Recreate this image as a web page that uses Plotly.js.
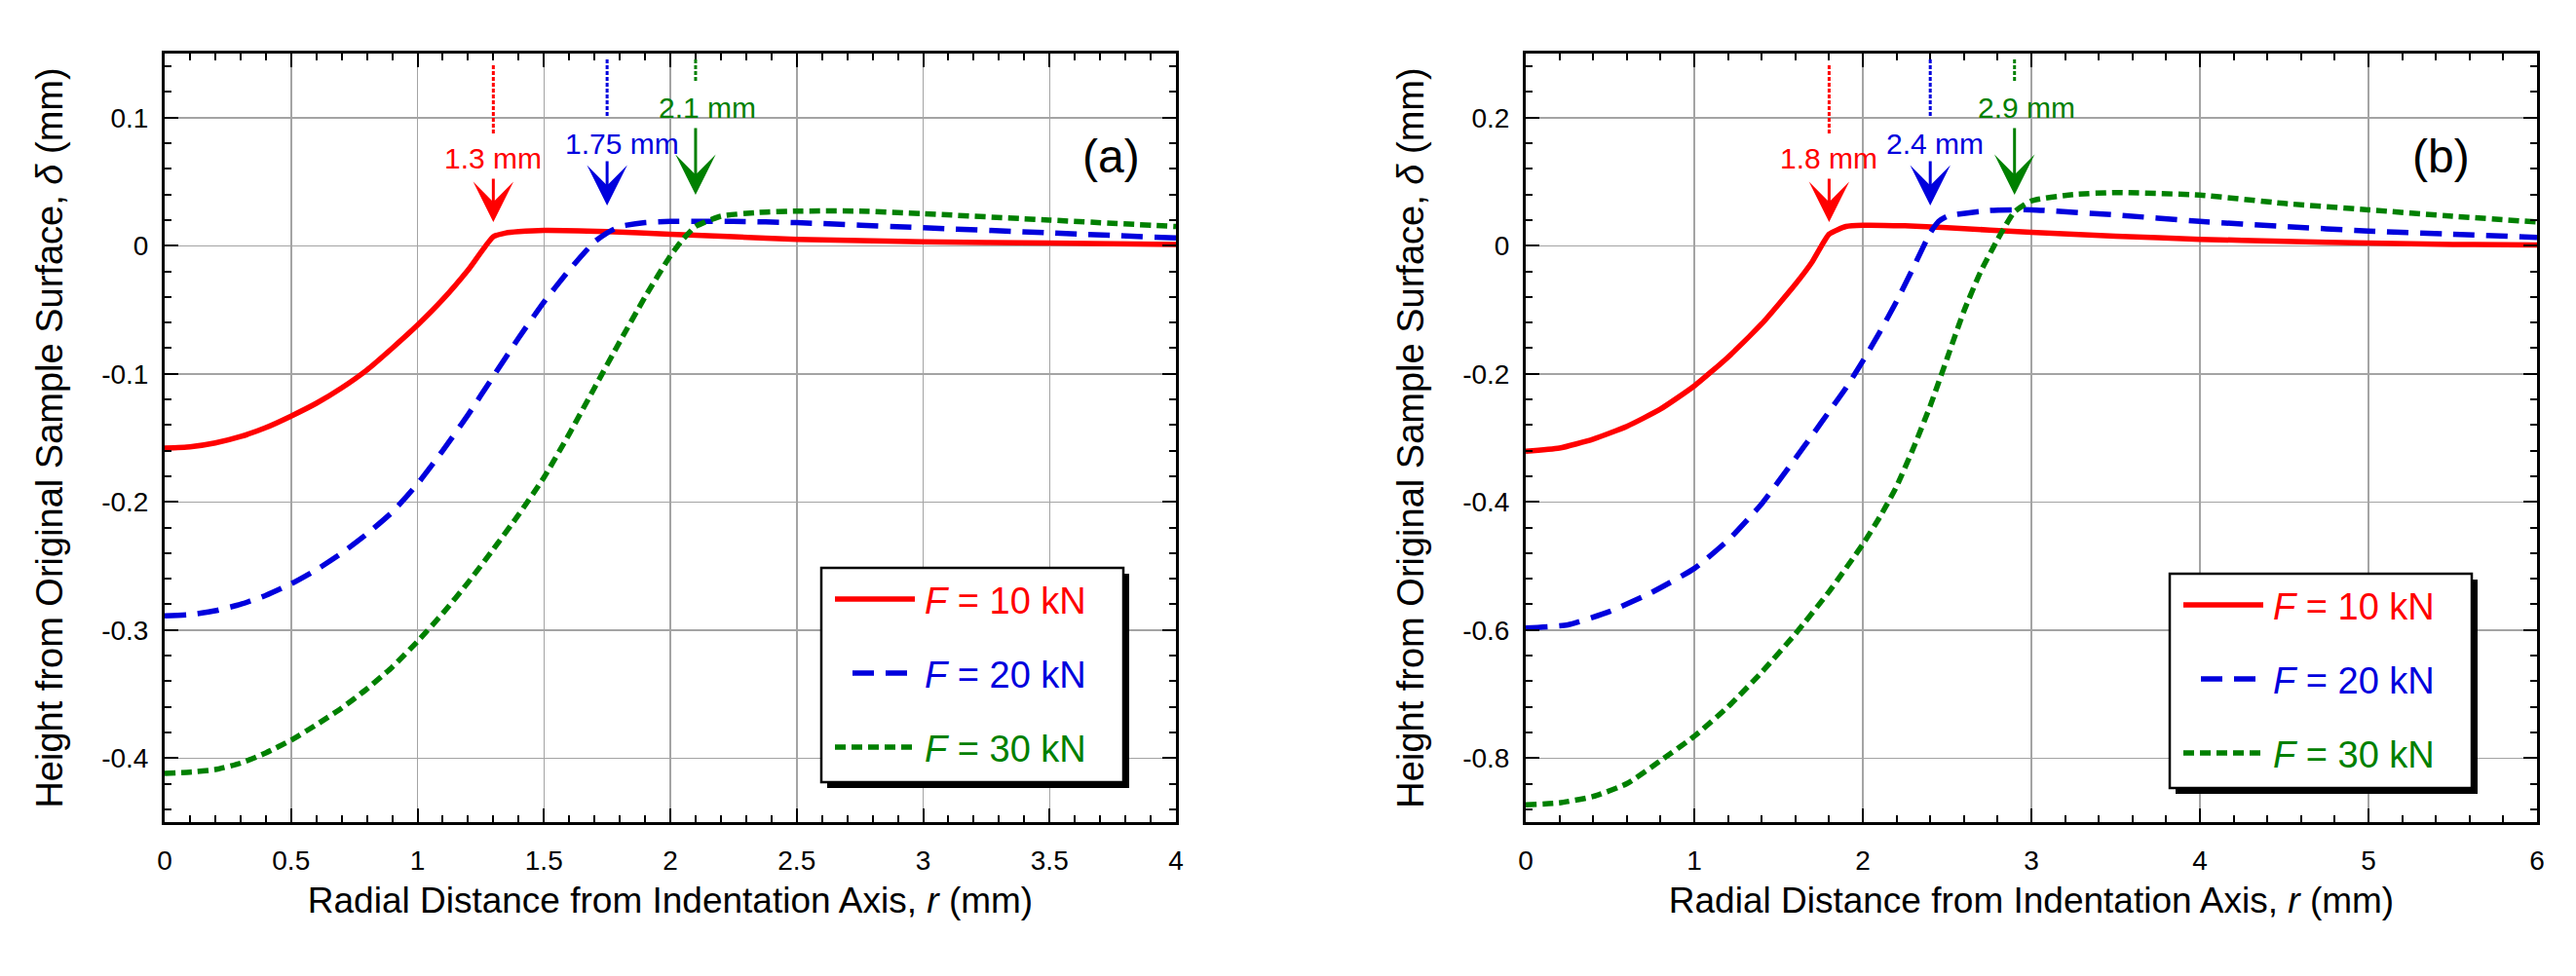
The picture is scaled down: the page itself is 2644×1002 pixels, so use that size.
<!DOCTYPE html>
<html>
<head>
<meta charset="utf-8">
<script src="https://cdn.plot.ly/plotly-3.0.1.min.js"></script>
<style>
  html, body { margin: 0; padding: 0; background: #fff; }
  #chart { width: 2644px; height: 1002px; }
</style>
</head>
<body>
<div id="chart"></div>
<script>
// ---- panel (a): radial distance r (mm) vs surface height delta (mm)
const rA10 = [0, 0.1, 0.2, 0.3, 0.4, 0.5, 0.6, 0.7, 0.8, 0.9, 1.0, 1.1, 1.2, 1.3, 1.35, 1.4, 1.5, 1.75, 2.0, 2.25, 2.5, 3.0, 3.5, 4.0];
const dA10 = [-0.158, -0.157, -0.154, -0.149, -0.142, -0.133, -0.123, -0.111, -0.097, -0.080, -0.062, -0.042, -0.019, 0.007, 0.010, 0.011, 0.012, 0.011, 0.009, 0.007, 0.005, 0.003, 0.002, 0.001];

const rA20 = [0, 0.1, 0.2, 0.3, 0.4, 0.5, 0.6, 0.7, 0.8, 0.9, 1.0, 1.1, 1.2, 1.3, 1.4, 1.5, 1.6, 1.7, 1.75, 1.8, 1.9, 2.0, 2.25, 2.5, 3.0, 3.5, 4.0];
const dA20 = [-0.289, -0.288, -0.285, -0.280, -0.273, -0.264, -0.253, -0.240, -0.225, -0.208, -0.186, -0.160, -0.132, -0.102, -0.072, -0.044, -0.019, 0.003, 0.010, 0.015, 0.018, 0.019, 0.019, 0.018, 0.014, 0.010, 0.006];

const rA30 = [0, 0.1, 0.2, 0.3, 0.4, 0.5, 0.6, 0.7, 0.8, 0.9, 1.0, 1.1, 1.2, 1.3, 1.4, 1.5, 1.6, 1.7, 1.8, 1.9, 2.0, 2.05, 2.1, 2.2, 2.35, 2.5, 2.75, 3.0, 3.5, 4.0];
const dA30 = [-0.412, -0.411, -0.409, -0.404, -0.396, -0.386, -0.374, -0.361, -0.346, -0.329, -0.309, -0.287, -0.263, -0.237, -0.210, -0.181, -0.147, -0.111, -0.075, -0.040, -0.008, 0.005, 0.015, 0.023, 0.026, 0.027, 0.027, 0.025, 0.020, 0.015];

// ---- panel (b)
const rB10 = [0, 0.2, 0.4, 0.6, 0.8, 1.0, 1.2, 1.4, 1.6, 1.7, 1.8, 1.9, 2.0, 2.25, 2.5, 3.0, 3.5, 4.0, 4.5, 5.0, 5.5, 6.0];
const dB10 = [-0.321, -0.316, -0.302, -0.282, -0.255, -0.219, -0.174, -0.122, -0.060, -0.025, 0.018, 0.030, 0.032, 0.031, 0.028, 0.021, 0.015, 0.010, 0.007, 0.004, 0.002, 0.001];

const rB20 = [0, 0.25, 0.5, 0.75, 1.0, 1.2, 1.4, 1.5, 1.6, 1.7, 1.8, 1.9, 2.0, 2.1, 2.2, 2.3, 2.4, 2.45, 2.5, 2.75, 3.0, 3.5, 4.0, 4.5, 5.0, 5.5, 6.0];
const dB20 = [-0.597, -0.592, -0.571, -0.541, -0.504, -0.460, -0.403, -0.368, -0.332, -0.296, -0.259, -0.222, -0.180, -0.135, -0.087, -0.034, 0.020, 0.038, 0.046, 0.055, 0.056, 0.048, 0.038, 0.030, 0.023, 0.018, 0.013];

const rB30 = [0, 0.2, 0.4, 0.6, 0.8, 1.0, 1.2, 1.4, 1.6, 1.8, 2.0, 2.1, 2.2, 2.3, 2.4, 2.5, 2.6, 2.7, 2.8, 2.85, 2.9, 3.0, 3.25, 3.5, 4.0, 4.5, 5.0, 5.5, 6.0];
const dB30 = [-0.873, -0.870, -0.860, -0.840, -0.804, -0.766, -0.720, -0.666, -0.606, -0.540, -0.466, -0.424, -0.376, -0.316, -0.250, -0.176, -0.102, -0.040, 0.010, 0.033, 0.053, 0.070, 0.080, 0.083, 0.079, 0.066, 0.056, 0.046, 0.037];

// contact radii marked by arrows (mm)
const contactA = [1.3, 1.75, 2.1];
const contactB = [1.8, 2.4, 2.9];

// loads
const loads = ['10', '20', '30'];

// ticks
const xTickValsA = [0, 0.5, 1, 1.5, 2, 2.5, 3, 3.5, 4];
const xTickTextA = ['0', '0.5', '1', '1.5', '2', '2.5', '3', '3.5', '4'];
const yTickValsA = [-0.4, -0.3, -0.2, -0.1, 0, 0.1];
const yTickTextA = ['-0.4', '-0.3', '-0.2', '-0.1', '0', '0.1'];
const xTickValsB = [0, 1, 2, 3, 4, 5, 6];
const xTickTextB = ['0', '1', '2', '3', '4', '5', '6'];
const yTickValsB = [-0.8, -0.6, -0.4, -0.2, 0, 0.2];
const yTickTextB = ['-0.8', '-0.6', '-0.4', '-0.2', '0', '0.2'];

// ---- styling
const W = 2644, H = 1002;
const px = v => v / W;
const py = v => 1 - v / H;
const FONT = 'Liberation Sans, Arial, sans-serif';
const colors = ['#ff0000', '#0000dd', '#008000'];
const dashes = ['solid', '22px,12px', '11px,6px'];

const panels = [
    {
        xa: 'x', ya: 'y', left: 169, right: 1207, tag: '(a)',
        curves: [[rA10, dA10], [rA20, dA20], [rA30, dA30]],
        contact: contactA, textShift: [0, 15, 12], legend: [843, 583]
    },
    {
        xa: 'x2', ya: 'y2', left: 1566, right: 2604, tag: '(b)',
        curves: [[rB10, dB10], [rB20, dB20], [rB30, dB30]],
        contact: contactB, textShift: [0, 5, 12], legend: [2227, 589]
    }
];
const TOP = 55, BOTTOM = 844;

// marker geometry in px (same for both panels)
const dotTop = [67, 61, 61];
const dotBot = [137, 120, 83];
const labelY = [163, 147, 110];
const arrowTail = [182, 164, 130];
const arrowTip = [228, 211, 200];

const traces = [];
const shapes = [];
const annotations = [];

panels.forEach(p => {
    p.curves.forEach((c, i) => {
        traces.push({
            x: c[0], y: c[1], xaxis: p.xa, yaxis: p.ya,
            mode: 'lines',
            line: { color: colors[i], width: 5.5, dash: dashes[i], shape: 'spline', smoothing: 0.5 },
            showlegend: false, hoverinfo: 'skip'
        });
    });

    p.contact.forEach((r, i) => {
        shapes.push({
            type: 'line', xref: p.xa, yref: 'paper',
            x0: r, x1: r, y0: py(dotTop[i]), y1: py(dotBot[i]),
            line: { color: colors[i], width: 3, dash: '4px,2px' }
        });
        annotations.push({
            xref: p.xa, yref: 'paper', x: r, y: py(labelY[i]),
            xshift: p.textShift[i], yanchor: 'middle',
            text: r + ' mm', showarrow: false,
            font: { family: FONT, size: 30, color: colors[i] }
        });
        annotations.push({
            xref: p.xa, yref: 'paper', x: r, y: py(arrowTip[i]),
            ax: 0, ay: -(arrowTip[i] - arrowTail[i]),
            text: '', showarrow: true, arrowhead: 3, arrowsize: 2.3,
            arrowwidth: 3, arrowcolor: colors[i], standoff: 0
        });
    });

    // panel tag
    annotations.push({
        xref: 'paper', yref: 'paper', x: px(p.right - 67), y: py(160),
        text: p.tag, showarrow: false, yanchor: 'middle',
        font: { family: FONT, size: 48, color: '#000' }
    });

    // legend box with drop shadow
    const [lx, ly] = p.legend;
    const bw = 310, bh = 220;
    shapes.push({
        type: 'rect', xref: 'paper', yref: 'paper',
        x0: px(lx + 6), x1: px(lx + bw + 6), y0: py(ly + 6), y1: py(ly + bh + 6),
        fillcolor: '#000', line: { width: 0 }
    });
    shapes.push({
        type: 'rect', xref: 'paper', yref: 'paper',
        x0: px(lx), x1: px(lx + bw), y0: py(ly), y1: py(ly + bh),
        fillcolor: '#fff', line: { color: '#000', width: 2.5 }
    });
    loads.forEach((f, i) => {
        const rowY = ly + 32 + i * 76;
        shapes.push({
            type: 'line', xref: 'paper', yref: 'paper',
            x0: px(lx + (i === 1 ? 32 : 14)), x1: px(lx + (i === 1 ? 92 : 96)),
            y0: py(rowY), y1: py(rowY),
            line: { color: colors[i], width: 5.5, dash: dashes[i] }
        });
        annotations.push({
            xref: 'paper', yref: 'paper', x: px(lx + 104), y: py(rowY + 2),
            xanchor: 'left', yanchor: 'middle', showarrow: false,
            text: '<i>F</i> = ' + f + ' kN',
            font: { family: FONT, size: 38, color: colors[i] }
        });
    });
});

const axisBase = {
    showline: true, linecolor: '#000', linewidth: 3, mirror: 'allticks',
    ticks: 'inside', ticklen: 14, tickwidth: 2, tickcolor: '#000',
    showgrid: true, gridcolor: '#a4a4a4', gridwidth: 1.5,
    zeroline: false, tickmode: 'array',
    tickfont: { family: FONT, size: 28, color: '#000' }
};
const minorBase = { ticks: 'inside', ticklen: 7, tickwidth: 2, tickcolor: '#000', showgrid: false, tickmode: 'linear', tick0: 0 };

const xTitle = 'Radial Distance from Indentation Axis, <i>r</i> (mm)';
const yTitle = 'Height from Original Sample Surface, <i>δ</i> (mm)';
const yDomain = [1 - BOTTOM / H, 1 - TOP / H];

function xAxis(p, range, vals, text, minorStep) {
    return Object.assign({}, axisBase, {
        domain: [px(p.left), px(p.right)], range: range, anchor: p.ya,
        tickvals: vals, ticktext: text, ticklabelstandoff: 12,
        minor: Object.assign({}, minorBase, { dtick: minorStep }),
        title: { text: xTitle, standoff: 14, font: { family: FONT, size: 37, color: '#000' } }
    });
}
function yAxis(p, range, vals, text, minorStep) {
    return Object.assign({}, axisBase, {
        domain: yDomain, range: range, anchor: p.xa,
        tickvals: vals, ticktext: text, ticklabelstandoff: 8,
        minor: Object.assign({}, minorBase, { dtick: minorStep }),
        title: { text: yTitle, standoff: 28, font: { family: FONT, size: 38, color: '#000' } }
    });
}

const layout = {
    width: W, height: H,
    margin: { l: 0, r: 0, t: 0, b: 0 },
    paper_bgcolor: '#fff', plot_bgcolor: '#fff',
    showlegend: false,
    xaxis: xAxis(panels[0], [0, 4], xTickValsA, xTickTextA, 0.1),
    yaxis: yAxis(panels[0], [-0.45, 0.15], yTickValsA, yTickTextA, 0.02),
    xaxis2: xAxis(panels[1], [0, 6], xTickValsB, xTickTextB, 0.2),
    yaxis2: yAxis(panels[1], [-0.9, 0.3], yTickValsB, yTickTextB, 0.04),
    shapes: shapes,
    annotations: annotations
};

Plotly.newPlot('chart', traces, layout, { displayModeBar: false, staticPlot: true });
</script>
</body>
</html>
